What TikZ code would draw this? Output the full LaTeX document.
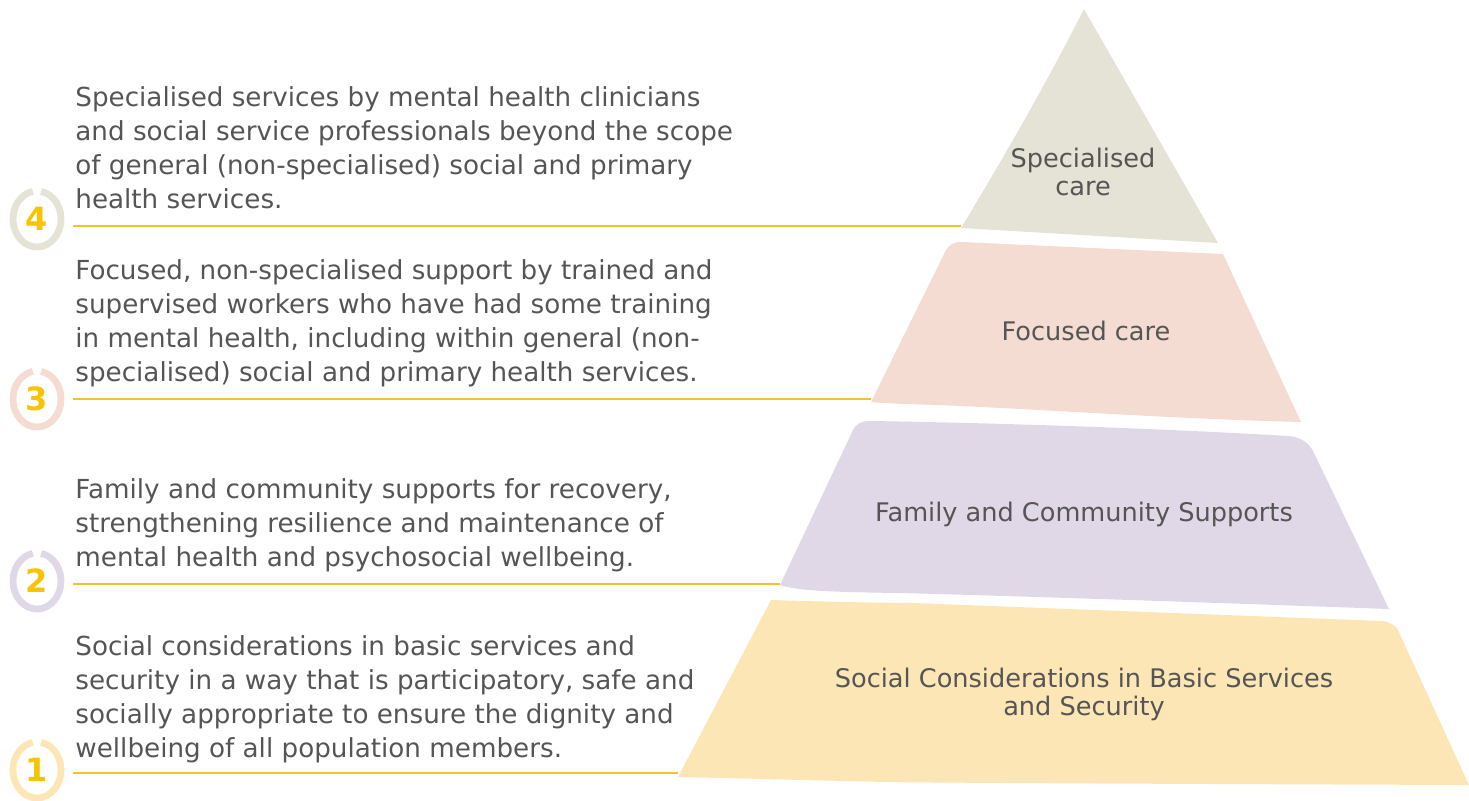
\documentclass[tikz,border=0pt]{standalone}
\usepackage{fontspec}
\setmainfont{DejaVu Sans}
\usepackage{xcolor}
\definecolor{specfill}{HTML}{E5E3D6}
\definecolor{focusfill}{HTML}{F5DCD3}
\definecolor{famfill}{HTML}{E0D8E7}
\definecolor{basicfill}{HTML}{FDE6B6}
\definecolor{rulegold}{HTML}{F6C22B}
\definecolor{numgold}{HTML}{F8C300}
\definecolor{txtgray}{HTML}{555555}

\begin{document}
\begin{tikzpicture}[x=0.5pt,y=0.5pt,yscale=-1,xscale=1,
    desc/.style={anchor=north west, inner sep=0pt, align=left, text=txtgray, font=\fontsize{13.1}{17}\selectfont},
    layerlbl/.style={inner sep=0pt, align=center, text=txtgray, font=\fontsize{12.8}{14}\selectfont},
    num/.style={inner sep=0pt, text=numgold, font=\fontsize{16}{16}\bfseries\selectfont},
    ring/.style={line width=3.4pt},
    guide/.style={rulegold, line width=1.1pt}]
    \useasboundingbox (0,0) rectangle (1469,800);

    %Shape: Triangle [top layer]
    \fill [specfill] (1084,9) -- (1218,243) -- (961,228) .. controls (1004,157) and (1047,82) .. (1084,9) -- cycle ;
    %Shape: Path Data [focused layer]
    \fill [focusfill] (871,402) -- (945,252) .. controls (949,244) and (954,242) .. (962,242) -- (1223,254) -- (1301,422) .. controls (1180,419) and (1050,410) .. (960,406) .. controls (920,404) and (890,404) .. (871,402) -- cycle ;
    %Shape: Path Data [family layer]
    \fill [famfill] (780,585) -- (853,430) .. controls (857,423) and (862,421) .. (870,421) .. controls (1000,423) and (1150,428) .. (1289,436) .. controls (1300,437) and (1310,443) .. (1314,453) -- (1389,609) .. controls (1250,604) and (1050,597) .. (900,593) .. controls (820,592) and (795,590) .. (780,585) -- cycle ;
    %Shape: Path Data [basic layer]
    \fill [basicfill] (678,777) -- (771,600) .. controls (800,601) and (880,603) .. (913,603) -- (1382,621) .. controls (1390,622) and (1395,625) .. (1398,630) -- (1469,785) .. controls (1200,784) and (950,783) .. (887,782) -- cycle ;

    % Layer corners
    \coordinate (spec-bl) at (961,226) ;
    \coordinate (focus-bl) at (871,399) ;
    \coordinate (fam-bl) at (780,584) ;
    \coordinate (basic-bl) at (678,773) ;

    % Text Node
    \node [layerlbl] (spec) at (1083,172) {Specialised\\care};
    % Text Node
    \node [layerlbl] (focus) at (1086,331) {Focused care};
    % Text Node
    \node [layerlbl] (fam) at (1084,514) {Family and Community Supports};
    % Text Node
    \node [layerlbl] (basic) at (1084,694) {Social Considerations in Basic Services\\and Security};

    % Text Node
    \node [desc] (d4) at (75,86) {Specialised services by mental health clinicians\\and social service professionals beyond the scope\\of general (non-specialised) social and primary\\health services.};
    % Text Node
    \node [desc] (d3) at (75,259) {Focused, non-specialised support by trained and\\supervised workers who have had some training\\in mental health, including within general (non-\\specialised) social and primary health services.};
    % Text Node
    \node [desc] (d2) at (75,478) {Family and community supports for recovery,\\strengthening resilience and maintenance of\\mental health and psychosocial wellbeing.};
    % Text Node
    \node [desc] (d1) at (75,635) {Social considerations in basic services and\\security in a way that is participatory, safe and\\socially appropriate to ensure the dignity and\\wellbeing of all population members.};

    %Straight Lines [guides]
    \coordinate (r4) at (73,226) ;
    \coordinate (r3) at (73,399) ;
    \coordinate (r2) at (73,584) ;
    \coordinate (r1) at (73,773) ;
    \draw [guide] (r4) -- (spec-bl) ;
    \draw [guide] (r3) -- (focus-bl) ;
    \draw [guide] (r2) -- (fam-bl) ;
    \draw [guide] (r1) -- (basic-bl) ;

    %Shape: Rings with numbers
    \node [num] (n4) at (37,219) {4};
    \node [num] (n3) at (37,399) {3};
    \node [num] (n2) at (37,581) {2};
    \node [num] (n1) at (37,770) {1};
    \draw [ring, specfill] (n4.center) ++(-80:24 and 28) arc [start angle=-80, end angle=260, x radius=24, y radius=28] ;
    \draw [ring, focusfill] (n3.center) ++(-80:24 and 28) arc [start angle=-80, end angle=260, x radius=24, y radius=28] ;
    \draw [ring, famfill] (n2.center) ++(-80:24 and 28) arc [start angle=-80, end angle=260, x radius=24, y radius=28] ;
    \draw [ring, basicfill] (n1.center) ++(-80:24 and 28) arc [start angle=-80, end angle=260, x radius=24, y radius=28] ;

\end{tikzpicture}
\end{document}
